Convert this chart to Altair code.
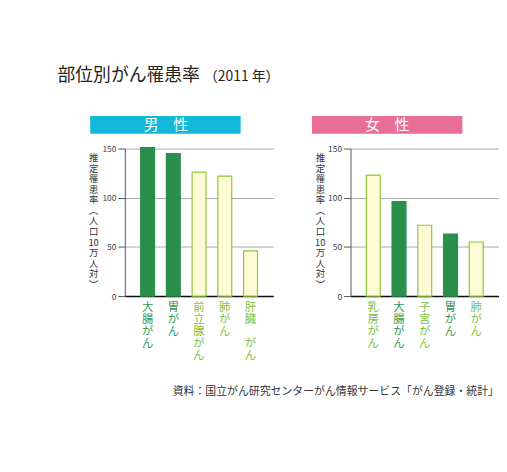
import altair as alt
import pandas as pd

# ---- data ----
main_title = "部位別がん罹患率"
main_year = "（2011 年）"
panel_labels = ["男　性", "女　性"]
source_text = "資料：国立がん研究センターがん情報サービス「がん登録・統計」"

male_sites = ["大腸がん", "胃がん", "前立腺がん", "肺がん", "肝臓 がん"]
male_rates = [151, 145, 126, 122, 46]
male_kinds = ["dark", "dark", "light", "light", "light"]

female_sites = ["乳房がん", "大腸がん", "子宮がん", "胃がん", "肺がん"]
female_rates = [123, 96, 72, 63, 55]
female_kinds = ["light", "dark", "light", "dark", "light"]

y_ticks = [0, 50, 100, 150]
y_title = ["推", "定", "罹", "患", "率", "︵", "人", "口", "10", "万", "人", "対", "︶"]

# ---- styles ----
FONT = "Noto Sans CJK JP"
DARK = "#2a8f4b"
LIGHT_FILL = "#fffbd4"
LIGHT_STROKE = "#8cc63f"
DARK_LABEL = "#2e9a50"
LIGHT_LABEL = "#7cc143"
CYAN = "#12b8d8"
PINK = "#e96e96"
W, H = 150, 149
BLANK = "\u2800"  # blank glyph so a space keeps its own line in vertical labels


def panel(sites, rates, kinds, header, header_color, rect_x, text_x, title_x, show_title):
    df = pd.DataFrame({"site": sites, "rate": rates, "kind": kinds})
    dark_sites = [s for s, k in zip(sites, kinds) if k == "dark"]
    test = "indexof([" + ",".join("'%s'" % s for s in dark_sites) + "], datum.value) >= 0"
    x = alt.X(
        "site:N", sort=sites, title=None,
        scale=alt.Scale(paddingInner=0.46, paddingOuter=0.615),
        axis=alt.Axis(
            labelAngle=0,
            labelExpr="split(replace(datum.label, ' ', '%s'), '')" % BLANK,
            labelBaseline="top",
            labelAlign="center", labelLineHeight=12, labelFontSize=11.5, labelFont=FONT,
            labelPadding=6, ticks=False, domainColor="#111", domainWidth=1.5,
            labelOverlap=False, grid=False,
            labelColor={"condition": {"test": test, "value": DARK_LABEL}, "value": LIGHT_LABEL},
        ),
    )
    y = alt.Y(
        "rate:Q", scale=alt.Scale(domain=[0, 150], nice=False),
        axis=alt.Axis(
            values=y_ticks, title=y_title, titleAngle=0, titleAlign="center",
            titleBaseline="top", titleX=title_x, titleY=4, titleLineHeight=10.7,
            titleFontSize=9.5, titleFont=FONT, titleFontWeight="normal", titleColor="#333",
            labelFontSize=8.5, labelColor="#444", labelFont=FONT, labelPadding=2,
            tickSize=7, tickColor="#555", domainColor="#555",
            gridColor="#aaa", gridWidth=1, grid=True,
        ),
    )
    bars = alt.Chart(df).mark_bar(strokeWidth=1.2).encode(
        x=x, y=y,
        fill=alt.Fill("kind:N", scale=alt.Scale(domain=["dark", "light"], range=[DARK, LIGHT_FILL]), legend=None),
        stroke=alt.Stroke("kind:N", scale=alt.Scale(domain=["dark", "light"], range=[DARK, LIGHT_STROKE]), legend=None),
    )
    hdf = pd.DataFrame({"t": [header]})
    rect = alt.Chart(hdf).mark_rect(color=header_color).encode(
        x=alt.value(rect_x[0]), x2=alt.value(rect_x[1]), y=alt.value(-33), y2=alt.value(-15)
    )
    htext = alt.Chart(hdf).mark_text(color="white", fontSize=15, font=FONT, baseline="middle").encode(
        x=alt.value(text_x), y=alt.value(-24), text="t:N"
    )
    layers = [bars, rect, htext]
    if show_title:
        tdf = pd.DataFrame({"t": [main_title], "y": [main_year]})
        t1 = alt.Chart(tdf).mark_text(
            fontSize=18, font=FONT, align="left", baseline="middle", color="#222"
        ).encode(x=alt.value(-68), y=alt.value(-73), text="t:N")
        t2 = alt.Chart(tdf).mark_text(
            fontSize=14, font=FONT, align="left", baseline="middle", color="#222"
        ).encode(x=alt.value(80), y=alt.value(-72), text="y:N")
        layers += [t1, t2]
    return alt.layer(*layers).properties(width=W, height=H)


left = panel(male_sites, male_rates, male_kinds, panel_labels[0], CYAN, (-35, 117), 41.5, -32, True)
right = panel(female_sites, female_rates, female_kinds, panel_labels[1], PINK, (-39, 113), 37, -31, False)

chart = alt.hconcat(left, right, spacing=78, bounds="flush").properties(
    padding={"left": 50, "top": 58, "right": 0, "bottom": 0},
    title=alt.TitleParams(
        source_text, orient="bottom", anchor="end", fontSize=11, font=FONT,
        fontWeight="normal", color="#333", offset=25,
    ),
).configure_view(stroke=None)

chart.save("out.html", embed_options={"renderer": "svg", "actions": False})
